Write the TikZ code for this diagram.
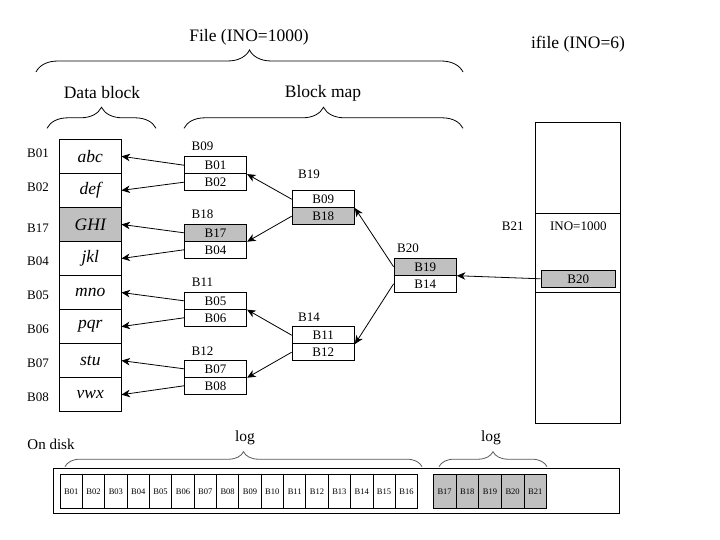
\documentclass[tikz,border=0pt]{standalone}
\usepackage{fontspec}
\setmainfont{Liberation Serif}
\usetikzlibrary{arrows.meta,decorations.pathreplacing}
\definecolor{cellgray}{RGB}{192,192,192}
\begin{document}
\begin{tikzpicture}[x=1pt,y=-1pt,line width=0.8pt,
  big/.style={font=\fontsize{17.5}{20}\selectfont, inner sep=0pt},
  lab/.style={font=\fontsize{13}{15}\selectfont, inner sep=0pt},
  dcell/.style={draw, minimum width=61.5pt, minimum height=34.05pt, inner sep=0pt, font=\fontsize{17.5}{19}\selectfont\itshape},
  mcell/.style={draw, minimum width=62.4pt, minimum height=17pt, inner sep=0pt, font=\fontsize{13}{15}\selectfont},
  kcell/.style={draw, minimum width=22.35pt, minimum height=34pt, inner sep=0pt, font=\fontsize{8.5}{10}\selectfont},
  shaded/.style={fill=cellgray},
  ptr/.style={-{Stealth[length=8.5pt,width=7.5pt,inset=2.5pt]}, line width=0.8pt},
  brc/.style={decorate, decoration={brace, amplitude=#1}, line width=0.8pt},
  brc/.default=21pt
]
\useasboundingbox (0,0) rectangle (720,540);

% ---- top labels and braces
\node[big] (tfile) at (249,37) {File (INO=1000)};
\node[big] (tifile) at (578,44) {ifile (INO=6)};
\node[big] (tdata) at (102,93) {Data block};
\node[big] (tmap) at (323,93) {Block map};
\draw[brc=22pt] (36,72) -- (463,72);
\draw[brc] (47,128.3) -- (156,128.3);
\draw[brc] (184,128.3) -- (463,128.3);

% ---- data blocks
\node[dcell] (d1) at (90.3,156.3) {abc};
\node[dcell] (d2) at (90.3,190.4) {def};
\node[dcell,shaded] (d3) at (90.3,224.4) {GHI};
\node[dcell] (d4) at (90.3,258.5) {jkl};
\node[dcell] (d5) at (90.3,292.5) {mno};
\node[dcell] (d6) at (90.3,326.6) {pqr};
\node[dcell] (d7) at (90.3,360.6) {stu};
\node[dcell] (d8) at (90.3,394.7) {vwx};
\node[lab] (l1) at (38,153) {B01};
\node[lab] (l2) at (38,187) {B02};
\node[lab] (l3) at (38,228) {B17};
\node[lab] (l4) at (38,261) {B04};
\node[lab] (l5) at (38,295) {B05};
\node[lab] (l6) at (38,329) {B06};
\node[lab] (l7) at (38,363) {B07};
\node[lab] (l8) at (38,397) {B08};

% ---- block map, first level
\node[mcell] (a1) at (215.5,165.2) {B01};
\node[mcell] (a2) at (215.5,182.2) {B02};
\node[lab] (la) at (202.5,146) {B09};
\node[mcell,shaded] (b1) at (215.5,232.8) {B17};
\node[mcell] (b2) at (215.5,249.8) {B04};
\node[lab] (lb) at (202.5,214) {B18};
\node[mcell] (c1) at (215.5,300.8) {B05};
\node[mcell] (c2) at (215.5,317.8) {B06};
\node[lab] (lc) at (202.5,282.5) {B11};
\node[mcell] (e1) at (215.5,368.8) {B07};
\node[mcell] (e2) at (215.5,385.8) {B08};
\node[lab] (le) at (202.5,351) {B12};

% ---- block map, second level
\node[mcell] (f1) at (323.3,199.2) {B09};
\node[mcell,shaded] (f2) at (323.3,216.2) {B18};
\node[lab] (lf) at (309,174) {B19};
\node[mcell] (g1) at (323.3,335.2) {B11};
\node[mcell] (g2) at (323.3,352.2) {B12};
\node[lab] (lg) at (309,317) {B14};

% ---- block map, third level
\node[mcell,shaded] (h1) at (425.2,266.8) {B19};
\node[mcell] (h2) at (425.2,283.8) {B14};
\node[lab] (lh) at (408,248) {B20};

% ---- ifile
\draw (535.3,122.3) rectangle (620.3,423.3);
\draw (535.3,213.3) -- (620.3,213.3);
\draw (535.3,292.3) -- (620.3,292.3);
\node[lab] (li) at (512.7,226) {B21};
\node[lab] (ino) at (578.3,226) {INO=1000};
\node[mcell,shaded,minimum width=74.7pt] (i1) at (578.3,278.8) {B20};

% ---- pointers
\draw[ptr] (a1.west) -- (d1.east);
\draw[ptr] (a2.west) -- (d2.east);
\draw[ptr] (b1.west) -- (d3.east);
\draw[ptr] (b2.west) -- (d4.east);
\draw[ptr] (c1.west) -- (d5.east);
\draw[ptr] (c2.west) -- (d6.east);
\draw[ptr] (e1.west) -- (d7.east);
\draw[ptr] (e2.west) -- (d8.east);
\draw[ptr] (f1.west) -- (a1.south east);
\draw[ptr] (f2.west) -- (b1.south east);
\draw[ptr] (g1.west) -- (c1.south east);
\draw[ptr] (g2.west) -- (e1.south east);
\draw[ptr] (h1.west) -- (f1.south east);
\draw[ptr] (h2.west) -- (g1.south east);
\draw[ptr] (i1.west) -- (h1.south east);

% ---- on disk
\node[font=\fontsize{15}{17}\selectfont, inner sep=0pt] (ondisk) at (51,444) {On disk};
\node[font=\fontsize{15.5}{17}\selectfont, inner sep=0pt] (log1) at (245,438) {log};
\node[font=\fontsize{15.5}{17}\selectfont, inner sep=0pt] (log2) at (491,438) {log};
\draw[brc=15pt, draw=black!65] (65,466.7) -- (422,466.7);
\draw[brc=15pt, draw=black!65] (439,466.7) -- (547,466.7);
\draw (53.3,468.3) rectangle (619.3,513.3);
\foreach \i in {1,...,16}
  \node[kcell] (k\i) at ({60+22.35*(\i-0.5)},491.3) {B\ifnum\i<10 0\fi\i};
\foreach \i in {17,...,21}
  \node[kcell,shaded,minimum width=22.67pt] (k\i) at ({433.3+22.67*(\i-16.5)},491.3) {B\i};
\end{tikzpicture}
\end{document}
